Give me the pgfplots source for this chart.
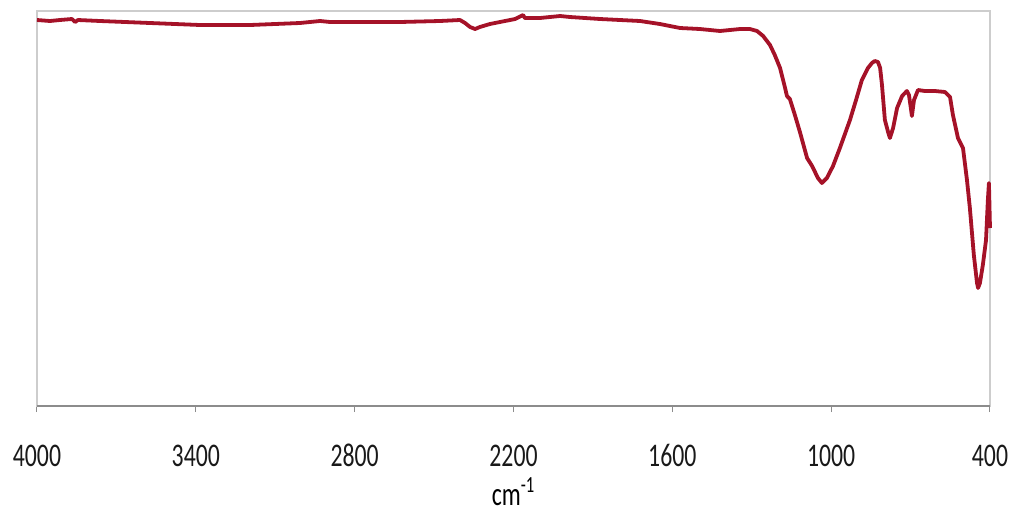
\documentclass[border=0pt]{standalone}
\usepackage{pgfplots}
\pgfplotsset{compat=1.18}
\usepackage{fontspec}
\setmainfont{Carlito}
\definecolor{spec}{RGB}{165,18,40}
\definecolor{frame}{RGB}{205,205,205}
\definecolor{baseax}{RGB}{140,140,140}
\begin{document}
\begin{tikzpicture}
\begin{axis}[
  scale only axis,
  width=476.5pt, height=197.5pt,
  x dir=reverse,
  xmin=400, xmax=4000, ymin=0, ymax=395,
  xtick={4000,3400,2800,2200,1600,1000,400},
  ytick=\empty,
  axis line style={draw=frame, line width=0.6pt},
  xtick pos=bottom,
  tick align=outside,
  major tick length=3pt,
  xtick style={draw=baseax, line width=0.5pt},
  /pgf/number format/assume math mode=true,
  /pgf/number format/1000 sep={},
  xticklabel style={font=\fontsize{16.5}{18}\selectfont, xscale=0.72, anchor=base, yshift=-27pt, text=black!90},
  xlabel={cm\textsuperscript{-1}},
  xlabel style={at={(axis description cs:0.5,0)}, anchor=base, yshift=-49.5pt, font=\fontsize{16.5}{18}\selectfont, xscale=0.72, inner sep=0pt},
  clip=false,
]
\draw[baseax, line width=0.7pt] (rel axis cs:0,0) -- (rel axis cs:1,0);
\addplot[spec, line width=1.9pt, line join=round] table {
x y
4000 386
3951 385
3913 386
3868 387
3856 384
3845 386
3762 385
3573 383
3384 381
3195 381
3007 383
2931 385
2893 384
2818 384
2629 384
2478 385
2402 386
2383 383
2364 379
2345 377
2327 379
2289 382
2251 384
2194 387
2164 391
2157 388
2100 388
2024 390
1987 389
1873 387
1798 386
1722 385
1647 382
1571 378
1496 377
1420 375
1382 376
1344 377
1307 377
1280 375
1257 370
1231 361
1213 351
1193 338
1174 318
1167 310
1156 307
1137 291
1118 274
1091 248
1072 240
1050 228
1035 223
1016 228
993 240
967 258
929 286
906 306
884 326
861 338
846 343
835 345
823 344
815 338
808 321
797 286
785 274
778 268
766 278
751 298
732 310
714 315
706 311
698 296
695 290
687 306
672 316
646 315
608 315
570 314
551 309
540 291
521 268
502 258
487 226
476 198
461 151
449 123
445 118
438 123
427 141
415 166
408 206
404 223
400 178
};
\end{axis}
\pgfresetboundingbox
\path ([xshift=-18.5pt,yshift=-52.5pt]current axis.south west) rectangle ([xshift=11pt,yshift=5.5pt]current axis.north east);
\end{tikzpicture}
\end{document}
